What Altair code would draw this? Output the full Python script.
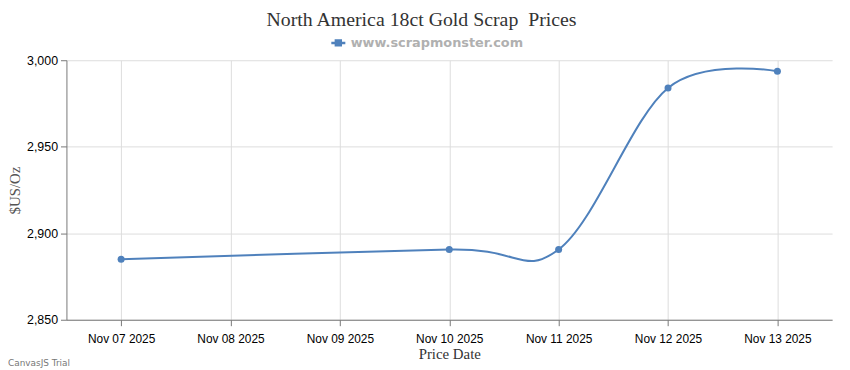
import altair as alt
import pandas as pd

dates = ["2025-11-07", "2025-11-10", "2025-11-11", "2025-11-12", "2025-11-13"]
prices = [2885.0, 2890.6, 2890.6, 2984.0, 2993.6]
series = "www.scrapmonster.com"
y_ticks = [2850, 2900, 2950, 3000]
tick_days = [7, 8, 9, 10, 11, 12, 13]

df = pd.DataFrame({"date": dates, "price": prices, "series": [series] * len(dates)})

blue = "#4f81bc"

x = alt.X(
    "date:T",
    scale=alt.Scale(
        type="utc",
        domain=[
            alt.DateTime(year=2025, month=11, date=6, hours=12, utc=True),
            alt.DateTime(year=2025, month=11, date=13, hours=12, utc=True),
        ],
    ),
    axis=alt.Axis(
        title="Price Date",
        values=[alt.DateTime(year=2025, month=11, date=d, utc=True) for d in tick_days],
        labelExpr="utcFormat(datum.value, '%b %d %Y')",
        labelFont="Liberation Sans",
        labelFontSize=12,
        labelColor="#000000",
        labelPadding=8,
        titleFont="Liberation Serif",
        titleFontSize=15,
        titleFontWeight="normal",
        titleColor="#333333",
        titlePadding=2,
        grid=True,
        gridColor="#dddddd",
        domainColor="#777777",
        tickColor="#777777",
        tickSize=6,
        labelOverlap=False,
    ),
)
y = alt.Y(
    "price:Q",
    scale=alt.Scale(domain=[2850, 3000], nice=False, zero=False),
    axis=alt.Axis(
        title="$US/Oz",
        values=y_ticks,
        format=",.0f",
        labelFont="Liberation Sans",
        labelFontSize=12.5,
        labelColor="#000000",
        labelPadding=3,
        titleFont="Liberation Serif",
        titleFontSize=15,
        titleFontWeight="normal",
        titleColor="#555555",
        titlePadding=4,
        grid=True,
        gridColor="#dddddd",
        domainColor="#777777",
        tickColor="#777777",
        tickSize=6,
    ),
)
color = alt.Color(
    "series:N",
    scale=alt.Scale(range=[blue]),
    legend=alt.Legend(
        title=None,
        orient="none",
        legendX=266,
        legendY=-26,
        symbolType="M-1,0L1,0M-0.35,-0.35L0.35,-0.35L0.35,0.35L-0.35,0.35Z",
        symbolSize=200,
        symbolStrokeWidth=2.5,
        symbolFillColor=blue,
        symbolStrokeColor=blue,
        labelFont="DejaVu Sans",
        labelFontSize=13,
        labelFontWeight="bold",
        labelColor="#b0b0b0",
        labelLimit=400,
    ),
)

base = alt.Chart(df).encode(x=x, y=y, color=color)
line = base.mark_line(interpolate="cardinal", strokeWidth=2)
pts = base.mark_point(filled=True, size=50, opacity=1, shape="circle")

trial = alt.Chart(pd.DataFrame({"t": ["CanvasJS Trial"]})).mark_text(
    align="left", baseline="middle", font="DejaVu Sans", fontSize=9, color="#777777"
).encode(text="t:N", x=alt.value(-59), y=alt.value(306))

chart = (
    alt.layer(line, pts, trial)
    .properties(
        width=773,
        height=262,
        autosize=alt.AutoSizeParams(type="none"),
        padding={"left": 59, "top": 51, "right": 10, "bottom": 49},
        title=alt.TitleParams(
            "North America 18ct Gold Scrap\u00a0 Prices",
            font="Liberation Serif",
            fontSize=20,
            fontWeight="normal",
            color="#333333",
            anchor="middle",
            dx=-28,
            offset=5,
        ),
    )
    .configure_view(stroke=None)
)

chart.save("out.html", embed_options={"renderer": "svg", "actions": False})
